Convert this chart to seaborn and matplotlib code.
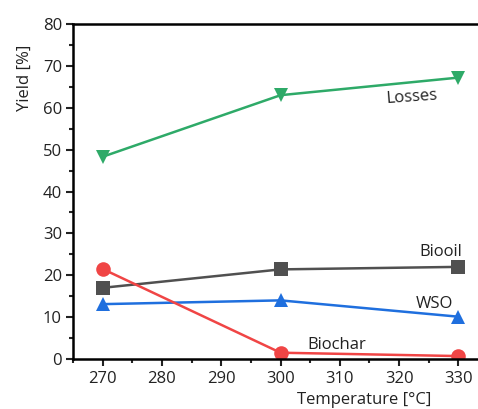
import seaborn as sns
import pandas as pd
import matplotlib.pyplot as plt
from matplotlib.ticker import MultipleLocator

temps = [270, 300, 330]
losses = [48.3, 63.0, 67.2]
biooil = [17.0, 21.4, 22.0]
wso = [13.1, 14.0, 10.1]
biochar = [21.5, 1.5, 0.7]

series = {'Losses': losses, 'Biooil': biooil, 'WSO': wso, 'Biochar': biochar}
rows = []
for name, vals in series.items():
    for t, v in zip(temps, vals):
        rows.append({'Temperature': t, 'Yield': v, 'Product': name})
df = pd.DataFrame(rows)

colors = {'Losses': '#2EAA68', 'Biooil': '#505050', 'WSO': '#1F6FDE', 'Biochar': '#F04545'}
marks = {'Losses': 'v', 'Biooil': 's', 'WSO': '^', 'Biochar': 'o'}

sns.set_style('ticks')
plt.rcParams['font.family'] = ['Open Sans', 'DejaVu Sans']

fig = plt.figure(figsize=(4.78, 4.09), dpi=100)
ax = fig.add_axes([73 / 478, 50 / 409, 405 / 478, 335 / 409])

sns.lineplot(data=df, x='Temperature', y='Yield', hue='Product', style='Product',
             palette=colors, markers=marks, dashes=False, markersize=10.5,
             markeredgewidth=0, linewidth=1.8, ax=ax, legend=False)

ax.set_xlim(265, 333.3)
ax.set_ylim(0, 80)
ax.xaxis.set_major_locator(MultipleLocator(10))
ax.xaxis.set_minor_locator(MultipleLocator(5))
ax.yaxis.set_major_locator(MultipleLocator(10))
ax.yaxis.set_minor_locator(MultipleLocator(5))
ax.tick_params(which='major', direction='out', length=5, width=1.5, labelsize=12, colors='#222222')
ax.tick_params(which='minor', direction='out', length=3, width=1.5)
ax.tick_params(axis='y', pad=3)
for s in ['left', 'bottom', 'top']:
    ax.spines[s].set_linewidth(1.8)
    ax.spines[s].set_color('black')
ax.spines['right'].set_visible(False)

ax.set_ylabel('Yield [%]', fontsize=12, color='#222222')
ax.set_xlabel('Temperature [°C]', fontsize=12, color='#222222')
ax.xaxis.set_label_coords(0.72, -0.1)
ax.yaxis.set_label_coords(-0.1, 0.84)

ax.text(322.2, 62.6, 'Losses', fontsize=12, rotation=4, ha='center', va='center', color='#222222')
ax.text(327, 25.5, 'Biooil', fontsize=12, ha='center', va='center', color='#222222')
ax.text(326, 13.2, 'WSO', fontsize=12, ha='center', va='center', color='#222222')
ax.text(309.4, 3.4, 'Biochar', fontsize=12, ha='center', va='center', color='#222222')

fig.savefig('out.png', dpi=100)
